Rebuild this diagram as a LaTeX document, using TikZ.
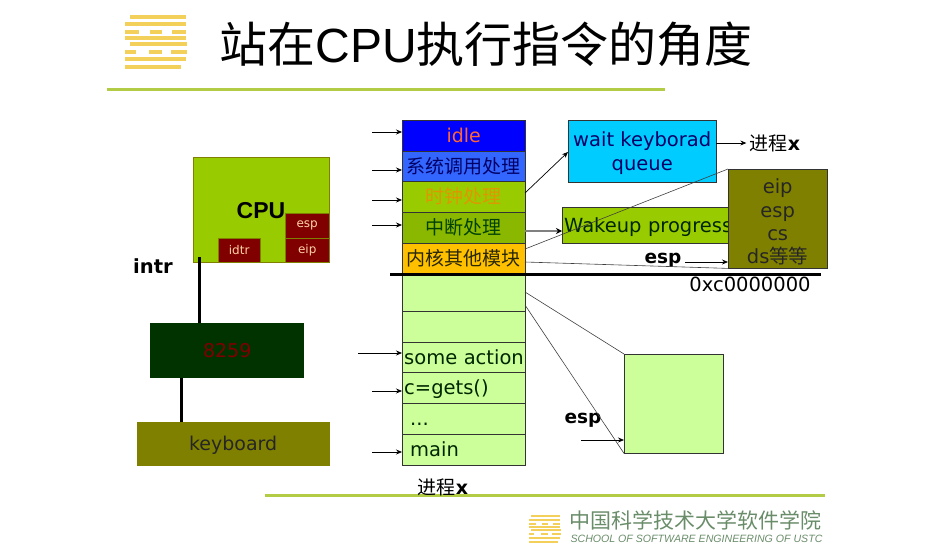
\documentclass[tikz,border=0pt]{standalone}
\usepackage{fontspec}
\setmainfont{DejaVu Sans}
\newfontfamily\cjk{Noto Sans CJK SC}
\newfontfamily\arial{Liberation Sans}
\usetikzlibrary{arrows.meta, positioning}
\definecolor{slidegreen}{RGB}{153,204,0}
\definecolor{stackgreen}{RGB}{204,255,153}
\definecolor{olive}{RGB}{128,128,0}
\definecolor{regred}{RGB}{128,0,0}
\definecolor{ruleline}{RGB}{178,204,70}
\definecolor{logogold}{RGB}{242,208,90}
\definecolor{schooltext}{RGB}{105,140,105}
\definecolor{syscell}{RGB}{51,102,255}
\definecolor{othercell}{RGB}{255,192,0}
\definecolor{waitcell}{RGB}{0,204,255}
\definecolor{darkgreen}{RGB}{0,51,0}
\tikzset{
  box/.style    = {rectangle, draw=black!80, anchor=north west, inner sep=0pt, align=center},
  cell/.style   = {box, minimum width=123pt, text height=14pt, text depth=0pt},
  lcell/.style  = {cell, text width=119pt, inner xsep=2pt, align=left, font=\fontsize{19.5}{21}\selectfont},
  reg/.style    = {box, draw=olive, fill=regred, text=orange!35, font=\fontsize{12}{14}\selectfont},
  fl/.style     = {-{Stealth[length=6pt, width=5pt]}, draw=black, line width=0.7pt},
  ln/.style     = {draw=black!75, line width=0.6pt},
  bus/.style    = {draw=black, line width=3pt},
  hd/.style     = {font=\bfseries\fontsize{18.5}{20}\selectfont},
  tag/.style    = {font=\fontsize{19}{21}\selectfont},
  rulebar/.style = {draw=ruleline, line width=3pt},
}
% stripes of the school mark, #1/#2 = top left, #3 = scale, #4 = stripe width
\newcommand{\schoolmark}[4]{%
  \begin{scope}[shift={(#1,#2)}, x=#3pt, y=-#3pt, draw=logogold, line width=#4pt]
    \foreach \a/\b/\r in {6/62/2, 1/62/9, 1/15/17, 26/38/17, 48/62/17, 1/62/23,
                          6/63/29, 1/12/37, 25/38/37, 47/63/37, 1/62/44, 1/57/52}
      \draw (\a,\r) -- (\b,\r);
  \end{scope}}

\begin{document}
\begin{tikzpicture}[x=1pt, y=-1pt]
  \useasboundingbox (0,0) rectangle (943,557);

  % ---- title and rules -----------------------------------------------------
  \schoolmark{124}{15}{1}{4}
  \node[anchor=west, font=\fontsize{48}{50}\selectfont] (title) at (216,44)
     {\cjk 站在\arial CPU\cjk 执行指令的角度};
  \draw[rulebar] (107,89) -- (665,89);
  \draw[rulebar] (265,495) -- (825,495);
  \schoolmark{528}{515}{0.52}{2.2}
  \node[anchor=west, text=schooltext, font=\fontsize{21}{23}\selectfont] (school) at (566,520)
     {\cjk 中国科学技术大学软件学院};
  \node[anchor=west, text=schooltext, font=\fontsize{10.6}{13}\selectfont\itshape] (schooleng) at (567,539)
     {\arial SCHOOL OF SOFTWARE ENGINEERING OF USTC};

  % ---- cpu side ------------------------------------------------------------
  \node[box, draw=olive, fill=slidegreen, minimum width=136pt, minimum height=105pt] (cpu) at (193,157) {};
  \node[font=\bfseries\fontsize{23}{25}\selectfont\arial] (cpulab) at (261,211) {CPU};
  \node[reg, minimum width=44pt, minimum height=25pt] (esp) at (285,213) {esp};
  \node[reg, minimum width=44pt, minimum height=24pt] (eip) at (285,238) {eip};
  \node[reg, minimum width=42pt, minimum height=24pt] (idtr) at (218,238) {idtr};
  \node[hd, font=\bfseries\fontsize{19.5}{21}\selectfont] (intr) at (153,266) {intr};
  \node[box, draw=none, fill=darkgreen, text=regred, minimum width=154pt, minimum height=55pt,
        text height=14pt, text depth=0pt, font=\fontsize{19}{21}\selectfont] (pic) at (150,323) {8259};
  \node[box, draw=olive, fill=olive, text=black!85, minimum width=192pt, minimum height=43pt,
        text height=14pt, text depth=0pt, font=\fontsize{19}{21}\selectfont] (keyboard) at (137,422) {keyboard};
  \coordinate (intrtop) at (199,257);
  \draw[bus] (intrtop) -- (intrtop |- pic.north);
  \coordinate (kbtop) at (181,378);
  \draw[bus] (kbtop) -- (kbtop |- keyboard.north);

  % ---- kernel stack --------------------------------------------------------
  \foreach \nm/\r/\h/\col/\txt/\tc in {%
      idle/120/31/blue/{idle}/orange!80!magenta,
      sys/151/30/syscell/{\cjk 系统调用处理}/blue!40!black,
      page/181/31/slidegreen/{\cjk 时钟处理}/orange!70!slidegreen,
      irq/212/31/slidegreen!90!black/{\cjk 中断处理}/green!25!black,
      other/243/30/othercell/{\cjk 内核其他模块}/black!70!olive} {
     \node[cell, fill=\col, text=\tc, minimum height=\h pt, font=\fontsize{19}{21}\selectfont] (\nm) at (402,\r) {\txt};
  }
  \foreach \nm/\r/\h/\txt in {%
      ua/273/38/{},
      ub/311/31/{},
      act/342/30/{\mbox{some action}},
      gets/372/31/{c=gets()},
      dots/403/31/{\hspace*{6pt}...},
      main/434/31/{\hspace*{6pt}main}} {
     \node[lcell, fill=stackgreen, text=green!15!black, minimum height=\h pt] (\nm) at (402,\r) {\txt};
  }
  \node[anchor=center, tag] (procb) at (443,487) {\cjk 进程\bfseries\fontspec{DejaVu Sans}x};

  % ---- entry arrows --------------------------------------------------------
  \foreach \y/\x [count=\i] in {132/372, 170/372, 200/372, 225/372, 353/358, 391/372, 452/372} {
     \coordinate (from\i) at (\x,\y);
     \coordinate (to\i) at (402,\y);
     \draw[fl] (from\i) -- (to\i);
  }

  % ---- right side ----------------------------------------------------------
  \node[box, fill=waitcell, text=blue!40!black, minimum width=148pt, minimum height=62pt, text depth=0pt,
        font=\fontsize{19.5}{24}\selectfont] (wait) at (568,120) {wait keyborad\\queue};
  \node[tag] (proca) at (775,143) {\cjk 进程\bfseries\fontspec{DejaVu Sans}x};
  \node[box, fill=slidegreen, text=green!15!black, text width=166pt, inner xsep=2pt, align=left,
        minimum height=36pt, text height=14pt, text depth=0pt, font=\fontsize{19.5}{21}\selectfont] (wake) at (562,207)
        {\mbox{Wakeup progress}};
  \node[box, fill=olive, text=black!85, minimum width=99pt, minimum height=99pt, text depth=0pt,
        font=\fontsize{19.5}{23.4}\selectfont] (regs) at (728,169) {\rule{0pt}{20pt}eip\\esp\\cs\\ds{\cjk 等等}};
  \node[hd] (espa) at (663,260) {esp};
  \node[font=\fontsize{19.5}{21}\selectfont] (addr) at (750,284) {0xc0000000};
  \node[box, fill=stackgreen, minimum width=99pt, minimum height=99pt] (frame) at (624,354) {};
  \node[hd] (espb) at (583,420) {esp};

  \coordinate (limitl) at (390,274);
  \coordinate (limitr) at (821,274);
  \draw[bus] (limitl) -- (limitr);

  \coordinate (pagea) at (525,193);
  \coordinate (waita) at (568,152);
  \draw[fl] (pagea) -- (waita);
  \draw[fl] (wait.east |- proca) -- (proca.west);
  \coordinate (irqa) at (525,231);
  \draw[-{Stealth[length=6pt, width=6pt, black]}, draw=black!50, line width=1.4pt] (irqa) -- (wake.west |- irqa);
  \coordinate (othera) at (525,249);
  \draw[ln] (othera) -- (regs.north west);
  \coordinate (otherb) at (525,262);
  \draw[ln] (otherb) -- (regs.south west);
  \coordinate (espaa) at (685,262);
  \draw[fl] (espaa) -- (regs.west |- espaa);
  \coordinate (uaa) at (525,292);
  \draw[ln] (uaa) -- (frame.north west);
  \coordinate (uab) at (525,305);
  \draw[ln] (uab) -- (frame.south west);
  \coordinate (espba) at (581,440);
  \draw[fl] (espba) -- (frame.west |- espba);
\end{tikzpicture}
\end{document}
